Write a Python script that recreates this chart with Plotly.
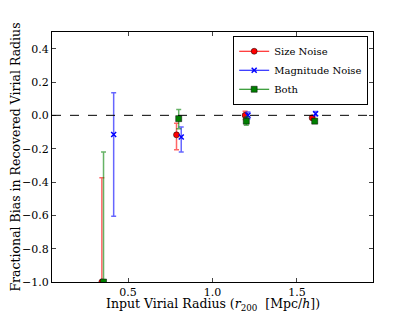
import plotly.graph_objects as go

# Size Noise
size_x = [0.345, 0.787, 1.193, 1.59]
size_y = [-1.0, -0.117, 0.0, -0.015]
size_plus = [0.625, 0.07, 0.025, 0.01]
size_minus = [0.3, 0.09, 0.025, 0.01]

# Magnitude Noise
mag_x = [0.415, 0.815, 1.21, 1.61]
mag_y = [-0.115, -0.13, 0.0, 0.01]
mag_plus = [0.25, 0.06, 0.02, 0.013]
mag_minus = [0.49, 0.09, 0.02, 0.013]

# Both
both_x = [0.355, 0.80, 1.20, 1.605]
both_y = [-1.0, -0.02, -0.035, -0.035]
both_plus = [0.78, 0.055, 0.025, 0.01]
both_minus = [0.3, 0.06, 0.025, 0.01]

xticks = [0.5, 1.0, 1.5]
yticks = [0.4, 0.2, 0.0, -0.2, -0.4, -0.6, -0.8, -1.0]
ytick_labels = ["0.4", "0.2", "0.0", "\u22120.2", "\u22120.4", "\u22120.6", "\u22120.8", "\u22121.0"]

FONT = "DejaVu Serif"
fig = go.Figure()

series = [
    ("Size Noise", size_x, size_y, size_plus, size_minus, "red", "rgba(255,0,0,0.6)", "circle", 6),
    ("Magnitude Noise", mag_x, mag_y, mag_plus, mag_minus, "blue", "rgba(0,0,255,0.6)", "x-thin", 5),
    ("Both", both_x, both_y, both_plus, both_minus, "green", "rgba(0,128,0,0.6)", "square", 6),
]

for name, xs, ys, ep, em, col, ecol, sym, sz in series:
    mline = dict(color=("blue" if sym == "x-thin" else "black"), width=(1.5 if sym == "x-thin" else 0.5))
    fig.add_trace(go.Scatter(
        x=xs, y=ys, mode="markers", showlegend=False,
        marker=dict(color=col, symbol=sym, size=sz, line=mline),
        error_y=dict(type="data", symmetric=False, array=ep, arrayminus=em,
                     color=ecol, thickness=1.5, width=2.5),
    ))
    fig.add_trace(go.Scatter(
        x=[None], y=[None], mode="lines+markers", name=name,
        line=dict(color=col, width=1.2),
        marker=dict(color=col, symbol=sym, size=sz, line=mline),
    ))

fig.add_shape(type="line", xref="paper", x0=0, x1=1, yref="y", y0=0, y1=0,
              line=dict(color="black", width=1, dash="dash"))

fig.add_annotation(text="Input Virial Radius (<i>r</i><sub>200</sub>  [Mpc/<i>h</i>])",
                   xref="paper", yref="paper", x=0.5, y=0, xanchor="center",
                   yanchor="middle", yshift=-22, showarrow=False,
                   font=dict(family=FONT, size=12.5))

# page body adds an 8px offset; margins compensate
fig.update_layout(
    width=407, height=305,
    margin=dict(l=44, r=42, t=24, b=31),
    paper_bgcolor="white", plot_bgcolor="white",
    font=dict(family=FONT, size=11, color="black"),
    legend=dict(x=0.985, y=0.985, xanchor="right", yanchor="top",
                bordercolor="black", borderwidth=1, bgcolor="white",
                font=dict(family=FONT, size=10), tracegroupgap=0,
                itemwidth=30),
    xaxis=dict(range=[0.05, 1.95], tickvals=xticks, ticktext=["0.5", "1.0", "1.5"],
               ticks="inside", ticklen=4, mirror="allticks", showline=True,
               linecolor="black", linewidth=1, showgrid=False, zeroline=False,
               automargin=False,
               tickfont=dict(family=FONT, size=11)),
    yaxis=dict(range=[-1.0, 0.5], tickvals=yticks, ticktext=ytick_labels,
               ticks="inside", ticklen=4, mirror="allticks", showline=True,
               linecolor="black", linewidth=1, showgrid=False, zeroline=False,
               automargin=False,
               tickfont=dict(family=FONT, size=11),
               title=dict(text="Fractional Bias in Recovered Virial Radius",
                          font=dict(family=FONT, size=12.5), standoff=0)),
)

fig.write_html("out.html")
